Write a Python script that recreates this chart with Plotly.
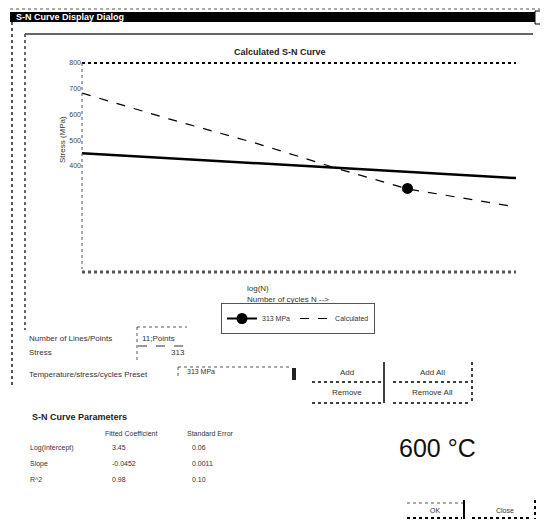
import plotly.graph_objects as go

# ---- data ----
calc_logN = [0.0, 2.0, 4.0, 6.0, 7.5, 8.5, 10.0]
calc_stress = [683, 583, 489, 384, 311, 283, 241]
fit_logN = [0.0, 10.0]
fit_stress = [450, 353]
point_logN = [7.5]
point_stress = [313]
y_ticks = [400, 500, 600, 700, 800]

OFF = 8  # default page body margin
W, H = 548 - OFF, 531 - OFF
L, R, T, B = 82, 516, 63, 269  # plot area in page pixels


def X(px):
    return (px - L) / (R - L)


def Y(py):
    return (B - py) / (B - T)


FONT = "Liberation Sans"
GRAY = "#333333"

fig = go.Figure()
fig.add_trace(go.Scatter(x=fit_logN, y=fit_stress, mode="lines", name="Fit",
                         line=dict(color="black", width=2.5), showlegend=False))
fig.add_trace(go.Scatter(x=point_logN, y=point_stress, mode="lines+markers", name="313 MPa",
                         line=dict(color="black", width=2),
                         marker=dict(color="black", size=11, symbol="circle")))
fig.add_trace(go.Scatter(x=calc_logN, y=calc_stress, mode="lines", name="Calculated",
                         line=dict(color="black", width=1.2, dash="dash")))

shapes = []
ann = []


def line(x0, y0, x1, y1, color="black", width=1, dash="solid"):
    shapes.append(dict(type="line", xref="paper", yref="paper",
                       x0=X(x0), y0=Y(y0), x1=X(x1), y1=Y(y1),
                       line=dict(color=color, width=width, dash=dash)))


def rect(x0, y0, x1, y1, fill="black", color="black", width=0):
    shapes.append(dict(type="rect", xref="paper", yref="paper",
                       x0=X(x0), y0=Y(y0), x1=X(x1), y1=Y(y1),
                       fillcolor=fill, line=dict(color=color, width=width)))


def text(px, py, s, size=9, color=GRAY, anchor="left", bold=False, angle=0):
    if bold:
        s = "<b>" + s + "</b>"
    ann.append(dict(x=X(px), y=Y(py), xref="paper", yref="paper", text=s,
                    showarrow=False, xanchor=anchor, yanchor="middle", textangle=angle,
                    font=dict(family=FONT, size=size, color=color)))


# window chrome
line(10, 9, 540, 9, color="#555555", width=1, dash="dot")
rect(10, 12, 537, 22)
text(14, 17, "S-N Curve Display Dialog", size=9, color="white", bold=True)
rect(535, 11, 546, 24, fill="white", color="black", width=1)
line(546, 24, 546, 531, color="black", width=1)
line(12, 22, 12, 385, color="#555555", width=2, dash="dot")
# chart panel
line(25, 34, 533, 34, color="#666666", width=2)
line(25, 34, 25, 330, color="#666666", width=2, dash="dot")
# plot frame
line(L, T, R, T, color="black", width=2, dash="dot")
line(L, B + 3, R, B + 3, color="#555555", width=3, dash="dot")
line(L, T, L, B, color="#555555", width=1, dash="dot")

# chart texts
text(280, 52, "Calculated S-N Curve", size=9, color="#222222", bold=True, anchor="center")
text(62, 140, "Stress (MPa)", size=8, color=GRAY, anchor="center", angle=-90)
text(245, 288, "log(N)", size=8, color=GRAY)
text(245, 299, "Number of cycles N -->", size=8, color=GRAY)

# controls
text(27, 338, "Number of Lines/Points", size=8)
line(137, 327, 187, 327, color="#555555", width=1, dash="dot")
line(137, 327, 137, 362, color="#555555", width=1, dash="dot")
text(140, 338, "11;Points", size=8)
line(138, 346, 187, 346, color="#333333", width=1, dash="dash")
text(27, 352, "Stress", size=8)
text(187, 352, "313", size=8, anchor="right")
text(27, 374, "Temperature/stress/cycles Preset", size=8)
line(178, 367, 290, 367, color="#555555", width=1, dash="dot")
line(178, 367, 178, 378, color="#555555", width=1, dash="dot")
text(185, 371, "313 MPa", size=7)
rect(292, 368, 296, 380, fill="#222222")

# buttons
text(347, 372, "Add", size=8, anchor="center")
line(312, 382, 382, 382, width=1.5, dash="dot")
line(384, 362, 384, 403, width=1.5)
text(432, 372, "Add All", size=8, anchor="center")
line(393, 382, 470, 382, width=1.5, dash="dot")
line(472, 362, 472, 403, width=1.5, dash="dot")
text(347, 392, "Remove", size=8, anchor="center")
line(312, 403, 382, 403, width=1.5, dash="dot")
text(432, 392, "Remove All", size=8, anchor="center")
line(393, 403, 470, 403, width=1.5, dash="dot")

# parameters table
text(30, 417, "S-N Curve Parameters", size=9, color="#222222", bold=True)
text(103, 433, "Fitted Coefficient", size=7)
text(185, 433, "Standard Error", size=7)
rows = [("Log(Intercept)", "3.45", "0.06"), ("Slope", "-0.0452", "0.0011"), ("R^2", "0.98", "0.10")]
for i, (a, b, c) in enumerate(rows):
    yy = 448 + i * 15.5
    text(28, yy, a, size=7)
    text(110, yy, b, size=7)
    text(190, yy, c, size=7)

text(437, 448, "600 °C", size=25, color="#111111", anchor="center")

# OK / Close
line(407, 503, 463, 503, color="#555555", width=1, dash="dot")
text(435, 510, "OK", size=7, anchor="center")
line(407, 518, 462, 518, width=2, dash="dot")
line(464, 500, 464, 519, width=2)
text(505, 510, "Close", size=7, anchor="center")
line(472, 518, 532, 518, width=2, dash="dot")
line(535, 500, 535, 519, width=2, dash="dot")

fig.update_layout(
    width=W, height=H,
    margin=dict(l=L - OFF, r=W - (R - OFF), t=T - OFF, b=H - (B - OFF), pad=0),
    paper_bgcolor="white", plot_bgcolor="white",
    font=dict(family=FONT, size=8, color=GRAY),
    xaxis=dict(range=[0, 10], showgrid=False, zeroline=False, showticklabels=False,
               showline=False, ticks=""),
    yaxis=dict(range=[0, 800], showgrid=False, zeroline=False, tickvals=y_ticks,
               tickfont=dict(size=7, color="#444444"), ticks="", showline=False),
    legend=dict(orientation="h", x=X(221), y=Y(303), xanchor="left", yanchor="top",
                bordercolor="#555555", borderwidth=1, bgcolor="white",
                font=dict(size=7, color=GRAY), tracegroupgap=0),
    shapes=shapes, annotations=ann, showlegend=True,
)

fig.write_html("out.html")
